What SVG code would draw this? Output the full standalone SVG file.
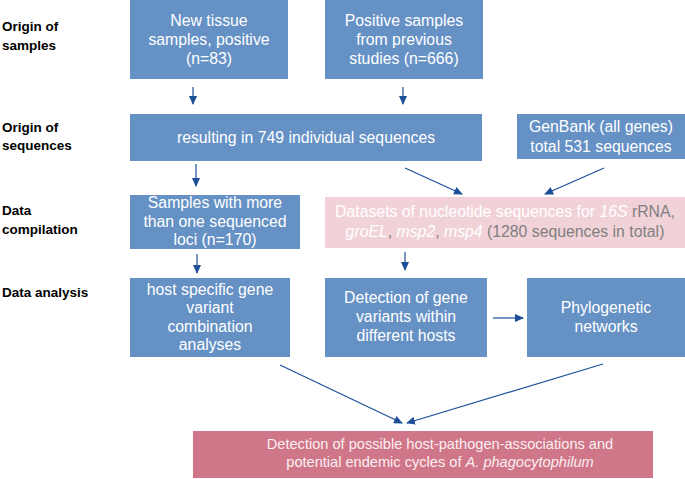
<svg xmlns="http://www.w3.org/2000/svg" width="685" height="479" viewBox="0 0 685 479">
<defs>
<marker id="ah" markerWidth="9" markerHeight="8" refX="8" refY="4" orient="auto" markerUnits="userSpaceOnUse">
<path d="M0,0 L9,4 L0,8 Z" fill="#1c4f98"/>
</marker>
<style>
.lbl{font-family:"Liberation Sans",Arial,sans-serif;font-weight:bold;font-size:13.5px;fill:#000}
.blue{fill:#6591c5}
.t{font-family:"Liberation Sans",Arial,sans-serif;font-size:15.8px;fill:#fff;text-anchor:middle}
.dk{fill:#808080}
.lt{fill:#fbeef1;font-size:14.6px}
.con{stroke:#1c4f98;stroke-width:1.2;fill:none;marker-end:url(#ah)}
</style>
</defs>
<rect width="685" height="479" fill="#fff"/>
<g id="labels">
<text class="lbl" x="2" y="31">Origin of</text>
<text class="lbl" x="2" y="50">samples</text>
<text class="lbl" x="2" y="132">Origin of</text>
<text class="lbl" x="2" y="150">sequences</text>
<text class="lbl" x="2" y="215">Data</text>
<text class="lbl" x="2" y="234">compilation</text>
<text class="lbl" x="2" y="297">Data analysis</text>
</g>
<g id="new-tissue">
<rect class="blue" x="130" y="0" width="158" height="79"/>
<text class="t" x="209" y="26">New tissue</text>
<text class="t" x="209" y="45">samples, positive</text>
<text class="t" x="209" y="64">(n=83)</text>
</g>
<g id="previous">
<rect class="blue" x="325" y="0" width="158" height="79"/>
<text class="t" x="404" y="26">Positive samples</text>
<text class="t" x="404" y="45">from previous</text>
<text class="t" x="404" y="64">studies (n=666)</text>
</g>
<g id="resulting">
<rect class="blue" x="130" y="114" width="352" height="47"/>
<text class="t" x="306" y="143">resulting in 749 individual sequences</text>
</g>
<g id="genbank">
<rect class="blue" x="517" y="114" width="168" height="45"/>
<text class="t" x="601" y="132">GenBank (all genes)</text>
<text class="t" x="601" y="152">total 531 sequences</text>
</g>
<g id="datasets">
<rect x="325" y="197" width="360" height="51" fill="#f2d2d9"/>
<text class="t" x="505" y="217">Datasets of nucleotide sequences for <tspan font-style="italic">16S</tspan> <tspan class="dk">rRNA,</tspan></text>
<text class="t" x="505" y="237"><tspan font-style="italic">groEL</tspan><tspan class="dk">, </tspan><tspan font-style="italic">msp2</tspan><tspan class="dk">, </tspan><tspan font-style="italic">msp4</tspan><tspan class="dk"> (1280 sequences in total)</tspan></text>
</g>
<g id="samples-loci">
<rect class="blue" x="130" y="195" width="170" height="54"/>
<text class="t" x="215" y="208">Samples with more</text>
<text class="t" x="215" y="227">than one sequenced</text>
<text class="t" x="215" y="245">loci (n=170)</text>
</g>
<g id="host-specific">
<rect class="blue" x="130" y="278" width="160" height="79"/>
<text class="t" x="210" y="295">host specific gene</text>
<text class="t" x="210" y="313">variant</text>
<text class="t" x="210" y="332">combination</text>
<text class="t" x="210" y="350">analyses</text>
</g>
<g id="detection-variants">
<rect class="blue" x="325" y="278" width="162" height="79"/>
<text class="t" x="406" y="303">Detection of gene</text>
<text class="t" x="406" y="322">variants within</text>
<text class="t" x="406" y="341">different hosts</text>
</g>
<g id="phylo">
<rect class="blue" x="527" y="278" width="158" height="79"/>
<text class="t" x="606" y="313">Phylogenetic</text>
<text class="t" x="606" y="332">networks</text>
</g>
<g id="result">
<rect x="193" y="431" width="460" height="47" fill="#d07689"/>
<text class="t lt" x="440" y="449">Detection of possible host-pathogen-associations and</text>
<text class="t lt" x="440" y="467">potential endemic cycles of <tspan font-style="italic">A. phagocytophilum</tspan></text>
</g>
<g id="connectors">
<line class="con" x1="193" y1="87" x2="193" y2="104"/>
<line class="con" x1="403" y1="87" x2="403" y2="104"/>
<line class="con" x1="196" y1="164" x2="196" y2="186"/>
<line class="con" x1="405" y1="168" x2="462" y2="194"/>
<line class="con" x1="604" y1="168" x2="545" y2="194"/>
<line class="con" x1="197" y1="254" x2="197" y2="273"/>
<line class="con" x1="405" y1="252" x2="405" y2="270"/>
<line class="con" x1="493" y1="318" x2="523" y2="318"/>
<line class="con" x1="280" y1="365" x2="402" y2="423"/>
<line class="con" x1="603" y1="364" x2="407" y2="423"/>
</g>
</svg>
